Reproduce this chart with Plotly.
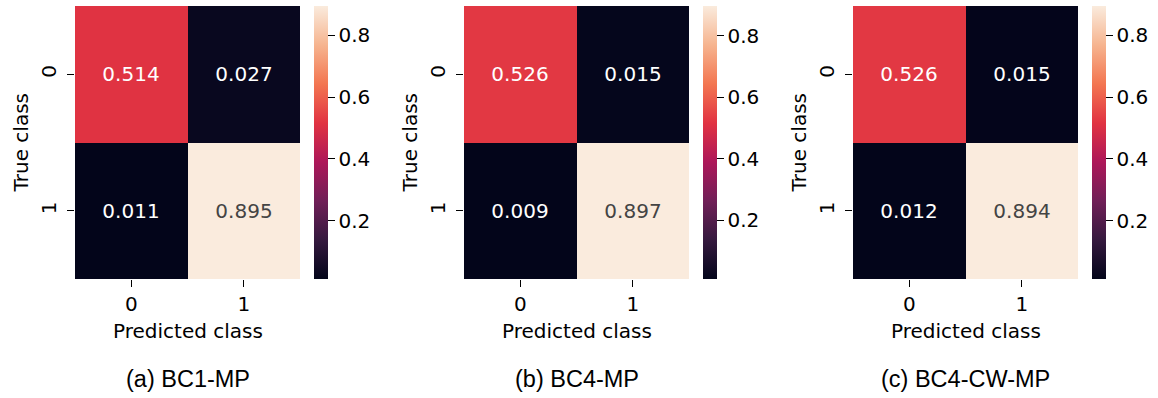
import plotly.graph_objects as go

# ---- data ----
classes = ["0", "1"]
captions = ["(a) BC1-MP", "(b) BC4-MP", "(c) BC4-CW-MP"]
cm_bc1_mp = [[0.514, 0.027], [0.011, 0.895]]
cm_bc4_mp = [[0.526, 0.015], [0.009, 0.897]]
cm_bc4_cw_mp = [[0.526, 0.015], [0.012, 0.894]]
matrices = [cm_bc1_mp, cm_bc4_mp, cm_bc4_cw_mp]
cbar_ticks = [0.2, 0.4, 0.6, 0.8]
x_title = "Predicted class"
y_title = "True class"

# ---- style ----
W, H = 1158, 398
rocket = [
    [0.0, "#03051a"],
    [1 / 7, "#35193e"],
    [2 / 7, "#701f57"],
    [3 / 7, "#ad1759"],
    [4 / 7, "#e13342"],
    [5 / 7, "#f37651"],
    [6 / 7, "#f6b48f"],
    [1.0, "#faebdd"],
]
tick_font = dict(family="DejaVu Sans", size=20, color="black")
cell_font = dict(family="DejaVu Sans", size=20)
cap_font = dict(family="Liberation Sans, Arial", size=23.5, color="black")

panel_left = [75, 464, 853]
panel_w = 225
cbar_left = [314, 703, 1092]
top_px, bot_px = 6, 279
ylabel_x = [20, 409, 798]


def fx(px):
    return px / W


def fy(px):
    return 1 - px / H


fig = go.Figure()
annotations = []
for i, z in enumerate(matrices):
    flat = [v for row in z for v in row]
    xa = "x" if i == 0 else f"x{i+1}"
    ya = "y" if i == 0 else f"y{i+1}"
    fig.add_trace(go.Heatmap(
        z=z, x=classes, y=classes,
        xaxis=xa, yaxis=ya,
        colorscale=rocket, zmin=min(flat), zmax=max(flat),
        texttemplate="%{z:.3f}", textfont=cell_font,
        colorbar=dict(
            x=fx(cbar_left[i]), xanchor="left", xpad=0,
            y=fy(top_px), yanchor="top", ypad=0,
            len=bot_px - top_px, lenmode="pixels",
            thickness=14, thicknessmode="pixels",
            outlinewidth=0,
            tickvals=cbar_ticks, ticktext=[f"{t:.1f}" for t in cbar_ticks],
            ticks="outside", ticklen=7, tickwidth=1, tickcolor="black",
            tickfont=tick_font,
        ),
        hoverinfo="skip",
    ))
    key = "" if i == 0 else str(i + 1)
    fig.layout["xaxis" + key] = dict(
        domain=[fx(panel_left[i]), fx(panel_left[i] + panel_w)],
        anchor=ya, type="category", showgrid=False, zeroline=False,
        ticks="outside", ticklen=7, tickwidth=1, tickcolor="black",
        tickfont=tick_font, fixedrange=True,
    )
    fig.layout["yaxis" + key] = dict(
        domain=[fy(bot_px), fy(top_px)],
        anchor=xa, type="category", autorange="reversed",
        showgrid=False, zeroline=False,
        ticks="outside", ticklen=7, tickwidth=1, tickcolor="black",
        tickfont=tick_font, tickangle=-90, ticklabelstandoff=3, fixedrange=True,
    )
    cx = fx(panel_left[i] + panel_w / 2)
    annotations.append(dict(text=x_title, x=cx, y=fy(331), xref="paper", yref="paper",
                            showarrow=False, font=tick_font, xanchor="center", yanchor="middle"))
    annotations.append(dict(text=captions[i], x=cx, y=fy(379), xref="paper", yref="paper",
                            showarrow=False, font=cap_font, xanchor="center", yanchor="middle"))
    annotations.append(dict(text=y_title, x=fx(ylabel_x[i]), y=fy((top_px + bot_px) / 2),
                            xref="paper", yref="paper", textangle=-90,
                            showarrow=False, font=tick_font, xanchor="center", yanchor="middle"))

fig.update_layout(
    width=W, height=H, margin=dict(l=0, r=0, t=0, b=0),
    paper_bgcolor="white", plot_bgcolor="white",
    annotations=annotations, showlegend=False,
)
fig.write_html("out.html", config={"displayModeBar": False},
               post_script="document.body.style.margin='0';document.body.style.overflow='hidden';")
